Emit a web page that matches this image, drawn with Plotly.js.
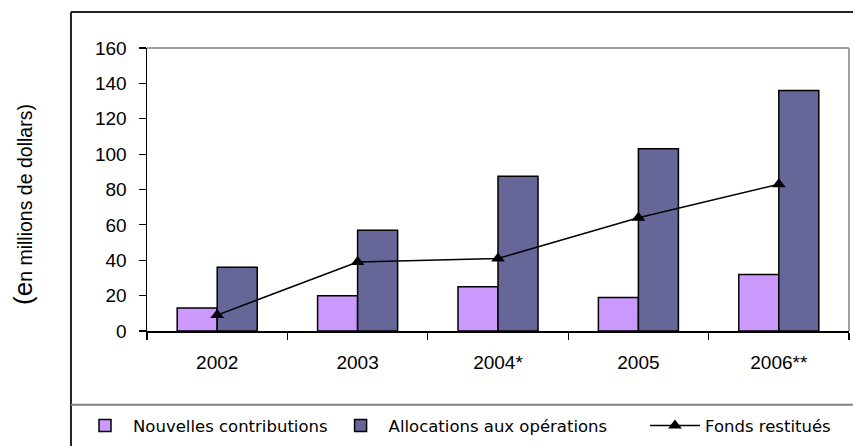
<!DOCTYPE html>
<html>
<head>
<meta charset="utf-8">
<script src="https://cdn.plot.ly/plotly-3.0.1.min.js"></script>
<style>html,body{margin:0;padding:0;background:#fff;}#chart{width:853px;height:446px;}</style>
</head>
<body>
<div id="chart"></div>
<script>
var years = ["2002", "2003", "2004*", "2005", "2006**"];
var nouvellesContributions = [13, 20, 25, 19, 32];
var allocationsOperations = [36, 57, 87.5, 103, 136];
var fondsRestitues = [9, 39, 41, 64, 83];
var seriesNames = ["Nouvelles contributions", "Allocations aux opérations", "Fonds restitués"];
var yTicks = [0, 20, 40, 60, 80, 100, 120, 140, 160];

var traces = [
  {type: "bar", x: years, y: nouvellesContributions, name: seriesNames[0],
   marker: {color: "#CC99FF", line: {color: "#000000", width: 1.5}}},
  {type: "bar", x: years, y: allocationsOperations, name: seriesNames[1],
   marker: {color: "#666699", line: {color: "#000000", width: 1.5}}},
  {type: "scatter", mode: "lines+markers", x: years, y: fondsRestitues, name: seriesNames[2],
   legend: "legend2",
   line: {color: "#000000", width: 1.5},
   marker: {symbol: "triangle-up", size: 12, color: "#000000"}}
];

var legendFont = {family: "DejaVu Sans, Verdana, sans-serif", size: 16.5, color: "#000000"};

var layout = {
  width: 853, height: 446,
  margin: {l: 147, r: 4, t: 48, b: 114},
  paper_bgcolor: "#ffffff", plot_bgcolor: "#ffffff",
  barmode: "group", bargap: 0.43, bargroupgap: 0,
  font: {family: "Liberation Sans, Arial, sans-serif", size: 19, color: "#000000"},
  showlegend: true,
  xaxis: {
    type: "category", showgrid: false, zeroline: false,
    showline: true, linecolor: "#000000", linewidth: 1.5,
    ticks: "outside", tickson: "boundaries", ticklen: 7, tickcolor: "#000000", tickwidth: 1.2,
    ticklabelstandoff: 14,
    tickfont: {family: "Liberation Sans, Arial, sans-serif", size: 19}
  },
  xaxis2: {
    overlaying: "x", range: [-0.5, 4.5], showgrid: false, zeroline: false, showline: false,
    ticks: "inside", tick0: -0.5, dtick: 1, ticklen: 7, tickcolor: "#000000", tickwidth: 1.2,
    showticklabels: false
  },
  yaxis: {
    range: [0, 160], tickvals: yTicks, showgrid: false, zeroline: false,
    showline: true, linecolor: "#000000", linewidth: 1.5,
    ticks: "outside", ticklen: 7, tickcolor: "#000000", tickwidth: 1.2,
    ticklabelstandoff: 8,
    tickfont: {family: "Liberation Sans, Arial, sans-serif", size: 19}
  },
  yaxis2: {
    overlaying: "y", range: [0, 160], tickvals: yTicks, showgrid: false, zeroline: false,
    showline: false, ticks: "inside", ticklen: 7, tickcolor: "#000000", tickwidth: 1.2,
    showticklabels: false
  },
  legend: {
    orientation: "h", x: -0.0997, xanchor: "left", y: -0.33, yanchor: "middle",
    font: legendFont, bgcolor: "rgba(0,0,0,0)", borderwidth: 0,
    itemwidth: 46, traceorder: "normal"
  },
  legend2: {
    orientation: "h", x: 0.7094, xanchor: "left", y: -0.33, yanchor: "middle",
    font: legendFont, bgcolor: "rgba(0,0,0,0)", borderwidth: 0,
    itemwidth: 50
  },
  shapes: [
    {type: "line", xref: "paper", yref: "paper", x0: 0, x1: 1, y0: 1, y1: 1, line: {color: "#a0a0a0", width: 2}},
    {type: "line", xref: "paper", yref: "paper", x0: 1, x1: 1, y0: 0, y1: 1, line: {color: "#a0a0a0", width: 2}},
    {type: "line", xref: "paper", yref: "paper", x0: -0.1083, x1: 1.01, y0: 1.1268, y1: 1.1268, line: {color: "#222222", width: 2}},
    {type: "line", xref: "paper", yref: "paper", x0: -0.1083, x1: -0.1083, y0: 1.1268, y1: -0.42, line: {color: "#222222", width: 2}},
    {type: "line", xref: "paper", yref: "paper", x0: -0.1083, x1: 1.01, y0: -0.2606, y1: -0.2606, line: {color: "#808080", width: 2}}
  ],
  annotations: [
    {xref: "paper", yref: "paper", x: -0.176, y: 0.447, xanchor: "center", yanchor: "middle",
     textangle: -90, showarrow: false,
     text: "<span style='font-size:26px'>(e</span>n millions de dollars)",
     font: {family: "Liberation Sans, Arial, sans-serif", size: 19.5, color: "#000000"}}
  ]
};

Plotly.newPlot("chart", traces, layout, {displayModeBar: false, staticPlot: true});
</script>
</body>
</html>
